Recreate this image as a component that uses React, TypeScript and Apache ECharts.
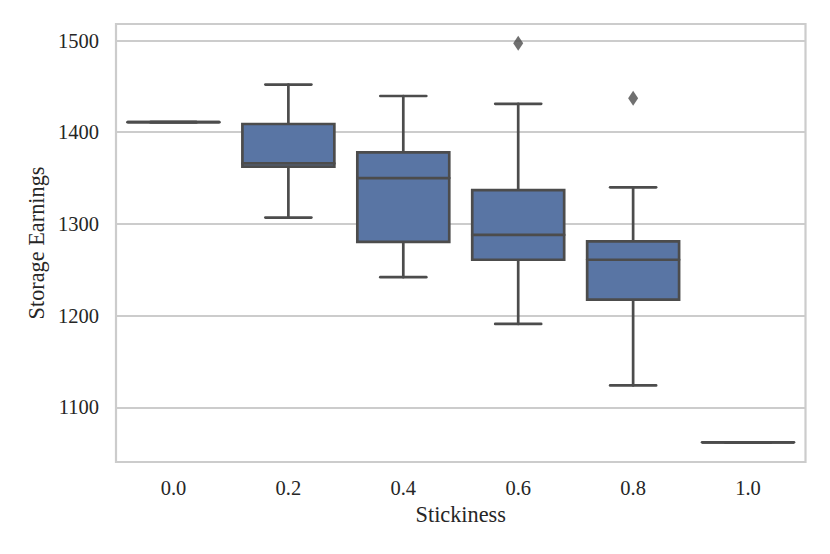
import React, { useEffect, useRef } from "react";
import * as echarts from "echarts";

const categories = ["0.0", "0.2", "0.4", "0.6", "0.8", "1.0"];
const whiskerLow = [1411, 1307, 1242, 1191, 1124, 1062];
const q1 = [1411, 1362.6, 1280.5, 1261, 1217.5, 1062];
const median = [1411, 1366, 1350, 1288, 1261, 1062];
const q3 = [1411, 1409, 1378, 1337, 1281, 1062];
const whiskerHigh = [1411, 1452, 1439.5, 1431, 1340, 1062];
const outlierCategory = [3, 4];
const outlierValue = [1497, 1437];

const FONT = "'Liberation Serif', 'Times New Roman', serif";
const TEXT = "#262626";
const LINE = "#4c4c4c";
const FILL = "#5975a4";
const GRID = "#cccccc";

export default function App() {
  const ref = useRef<HTMLDivElement>(null);
  useEffect(() => {
    if (!ref.current) return;
    const chart = echarts.init(ref.current, null, { renderer: "svg" });
    const boxData = categories.map((_, i) => [
      i,
      whiskerLow[i],
      q1[i],
      median[i],
      q3[i],
      whiskerHigh[i],
    ]);
    const lw = 2.7;
    chart.setOption({
      animation: false,
      backgroundColor: "#ffffff",
      grid: {
        left: 116,
        right: 24.5,
        top: 24,
        bottom: 92,
        show: true,
        borderColor: GRID,
        borderWidth: 2.2,
        backgroundColor: "#ffffff",
      },
      xAxis: {
        type: "category",
        data: categories,
        boundaryGap: true,
        name: "Stickiness",
        nameLocation: "middle",
        nameGap: 41,
        nameTextStyle: { fontFamily: FONT, fontSize: 22.3, color: TEXT },
        axisLine: { show: false },
        axisTick: { show: false },
        splitLine: { show: false },
        axisLabel: { fontFamily: FONT, fontSize: 20.5, color: TEXT, margin: 15 },
      },
      yAxis: {
        type: "value",
        min: 1040.5,
        max: 1518,
        splitNumber: 5,
        name: "Storage Earnings",
        nameLocation: "middle",
        nameGap: 68,
        nameTextStyle: { fontFamily: FONT, fontSize: 22.3, color: TEXT },
        axisLine: { show: false },
        axisTick: { show: false },
        splitLine: { show: true, lineStyle: { color: GRID, width: 1.8 } },
        axisLabel: {
          fontFamily: FONT,
          fontSize: 20.5,
          color: TEXT,
          margin: 17,
          showMinLabel: false,
          showMaxLabel: false,
          formatter: (v: number) => (Math.abs(v % 100) < 1e-6 ? String(v) : ""),
        },
      },
      series: [
        {
          type: "custom",
          data: boxData,
          encode: { x: 0, y: [1, 2, 3, 4, 5] },
          renderItem: (params: any, api: any) => {
            const i = api.value(0);
            const pLow = api.coord([i, api.value(1)]);
            const pQ1 = api.coord([i, api.value(2)]);
            const pMed = api.coord([i, api.value(3)]);
            const pQ3 = api.coord([i, api.value(4)]);
            const pHigh = api.coord([i, api.value(5)]);
            const bw = api.size([1, 0])[0] * 0.8;
            const half = bw / 2;
            const cap = bw / 4;
            const x = pMed[0];
            const stroke = { stroke: LINE, lineWidth: lw, lineCap: "round" };
            return {
              type: "group",
              children: [
                { type: "line", shape: { x1: x, y1: pHigh[1], x2: x, y2: pQ3[1] }, style: stroke },
                { type: "line", shape: { x1: x, y1: pQ1[1], x2: x, y2: pLow[1] }, style: stroke },
                { type: "line", shape: { x1: x - cap, y1: pHigh[1], x2: x + cap, y2: pHigh[1] }, style: stroke },
                { type: "line", shape: { x1: x - cap, y1: pLow[1], x2: x + cap, y2: pLow[1] }, style: stroke },
                {
                  type: "rect",
                  shape: { x: x - half, y: pQ3[1], width: bw, height: pQ1[1] - pQ3[1] },
                  style: { fill: FILL, stroke: LINE, lineWidth: lw },
                },
                { type: "line", shape: { x1: x - half, y1: pMed[1], x2: x + half, y2: pMed[1] }, style: stroke },
              ],
            };
          },
        },
        {
          type: "scatter",
          data: outlierCategory.map((c, i) => [c, outlierValue[i]]),
          symbol: "diamond",
          symbolSize: [10, 15],
          itemStyle: { color: LINE },
        },
      ],
    });
    return () => chart.dispose();
  }, []);
  return (
    <div
      ref={ref}
      style={{ position: "fixed", left: 0, top: 0, width: 830, height: 554, background: "#fff" }}
    />
  );
}
